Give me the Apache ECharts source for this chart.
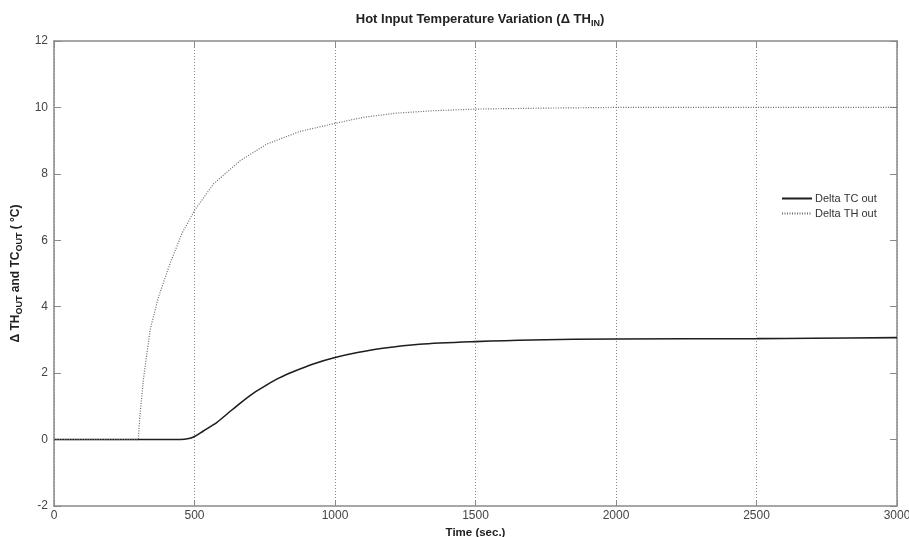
<!DOCTYPE html>
<html>
  <head>
    <meta charset="utf-8" />
    <title>Hot Input Temperature Variation</title>
    <script src="https://cdn.jsdelivr.net/npm/echarts@6/dist/echarts.min.js"></script>
    <style>
      html, body { margin: 0; padding: 0; background: #fff; }
      #main { width: 909px; height: 537px; }
    </style>
  </head>
  <body>
    <div id="main"></div>
    <script type="text/javascript">
      // values
      var thTime = [0, 300, 305, 318, 342, 372, 413, 455, 500, 568, 663, 758, 876, 1000, 1100, 1220, 1350, 1500, 1750, 2000, 2500, 3000];
      var thOut = [0, 0, 0.65, 1.8, 3.3, 4.3, 5.3, 6.2, 6.9, 7.7, 8.4, 8.9, 9.28, 9.52, 9.7, 9.83, 9.9, 9.95, 9.98, 10.0, 10.0, 10.0];

      var tcTime = [0, 450, 480, 500, 530, 580, 620, 663, 710, 758, 800, 853, 920, 1000, 1080, 1170, 1300, 1500, 1700, 2000, 2500, 2700, 3000];
      var tcOut = [0, 0, 0.03, 0.09, 0.25, 0.52, 0.8, 1.1, 1.4, 1.65, 1.85, 2.05, 2.27, 2.47, 2.62, 2.75, 2.87, 2.95, 3.0, 3.03, 3.04, 3.05, 3.07];

      function pairs(t, v) {
        var out = [];
        for (var i = 0; i < t.length; i++) out.push([t[i], v[i]]);
        return out;
      }

      var chart = echarts.init(document.getElementById("main"));
      var font = "Liberation Sans, Arial, sans-serif";
      var axisGray = "#8a8a8a";

      var option = {
        backgroundColor: "#ffffff",
        animation: false,
        title: {
          text: "{m|Hot Input Temperature Variation (\u0394 TH}{s|IN}{m|)}",
          left: 475,
          textAlign: "center",
          top: 6,
          textStyle: {
            rich: {
              m: { fontFamily: font, fontSize: 13, fontWeight: "bold", color: "#222" },
              s: { fontFamily: font, fontSize: 9, fontWeight: "bold", color: "#222", padding: [8, 0, 0, 0] },
            },
          },
        },
        legend: {
          orient: "vertical",
          left: 776,
          top: 188,
          itemWidth: 30,
          itemHeight: 8,
          itemGap: 4,
          itemStyle: { opacity: 0 },
          textStyle: { fontFamily: font, fontSize: 11, color: "#333", padding: [0, 0, 0, -2] },
          data: ["Delta TC out", "Delta TH out"],
        },
        grid: { left: 54, right: 12, top: 41, bottom: 31, outerBoundsMode: "none" },
        xAxis: [
          {
            type: "value",
            min: 0,
            max: 3000,
            interval: 500,
            name: "Time (sec.)",
            nameLocation: "middle",
            nameGap: 17,
            nameTextStyle: { fontFamily: font, fontSize: 11.5, fontWeight: "bold", color: "#222" },
            axisLine: { onZero: false, lineStyle: { color: axisGray, width: 1.5 } },
            axisTick: { inside: true, length: 6, lineStyle: { color: axisGray } },
            axisLabel: { fontFamily: font, fontSize: 12, color: "#444", margin: 4, formatter: function (v) { return String(v); } },
            splitLine: { show: true, lineStyle: { color: "#888", type: [1, 2], width: 1 } },
          },
          {
            type: "value",
            position: "top",
            min: 0,
            max: 3000,
            interval: 500,
            axisLine: { show: true, onZero: false, lineStyle: { color: axisGray, width: 1.5 } },
            axisTick: { show: true, inside: true, length: 6, lineStyle: { color: axisGray } },
            axisLabel: { show: false },
            splitLine: { show: false },
          },
        ],
        yAxis: [
          {
            type: "value",
            min: -2,
            max: 12,
            interval: 2,
            name: "{m|\u0394 TH}{s|OUT}{m| and TC}{s|OUT}{m| ( \u00b0C)}",
            nameLocation: "middle",
            nameRotate: 90,
            nameGap: 29,
            nameTextStyle: {
              rich: {
                m: { fontFamily: font, fontSize: 12, fontWeight: "bold", color: "#222" },
                s: { fontFamily: font, fontSize: 9, fontWeight: "bold", color: "#222", padding: [8, 0, 0, 0] },
              },
            },
            axisLine: { onZero: false, lineStyle: { color: axisGray, width: 1.5 } },
            axisTick: { inside: true, length: 7, lineStyle: { color: axisGray } },
            axisLabel: { fontFamily: font, fontSize: 12, color: "#444", margin: 6 },
            splitLine: { show: false },
          },
          {
            type: "value",
            position: "right",
            min: -2,
            max: 12,
            interval: 2,
            axisLine: { show: true, onZero: false, lineStyle: { color: axisGray, width: 1.5 } },
            axisTick: { show: true, inside: true, length: 7, lineStyle: { color: axisGray } },
            axisLabel: { show: false },
            splitLine: { show: false },
          },
        ],
        series: [
          {
            name: "Delta TC out",
            type: "line",
            symbol: "none",
            smooth: 0.3,
            data: pairs(tcTime, tcOut),
            itemStyle: { color: "#1e1e1e" },
            lineStyle: { color: "#1e1e1e", width: 1.6 },
          },
          {
            name: "Delta TH out",
            type: "line",
            symbol: "none",
            data: pairs(thTime, thOut),
            itemStyle: { color: "#6a6a6a" },
            lineStyle: { color: "#6a6a6a", width: 1.2, type: [1, 1.5] },
          },
        ],
      };

      chart.setOption(option);
    </script>
  </body>
</html>
